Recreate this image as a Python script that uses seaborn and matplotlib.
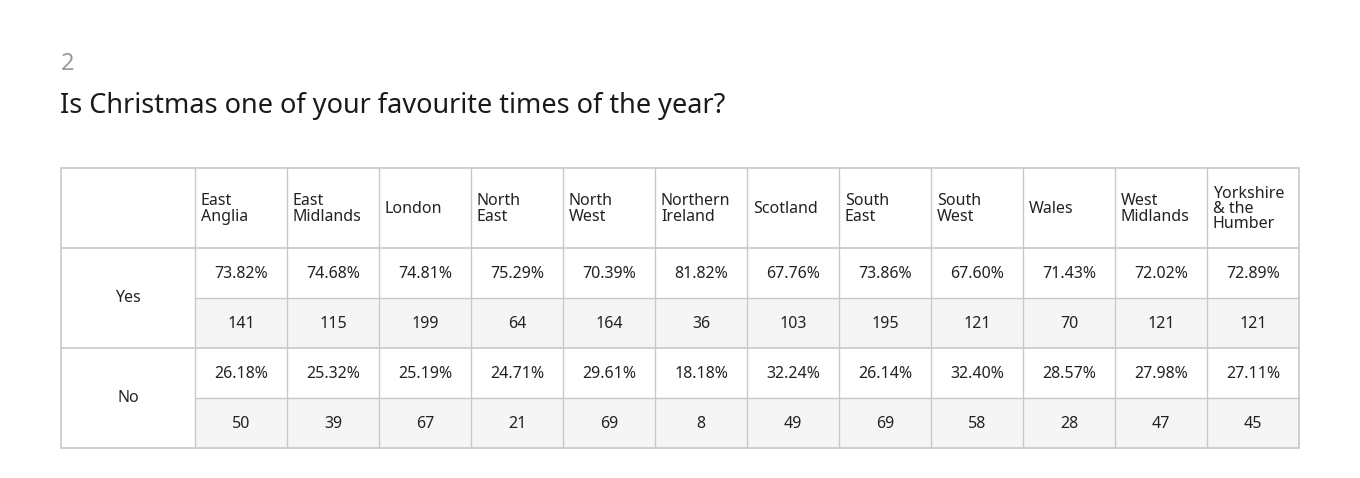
import matplotlib
matplotlib.use("Agg")
import matplotlib.pyplot as plt
import seaborn as sns
from matplotlib.patches import Rectangle

sns.set_theme(style="white")
plt.rcParams['font.family'] = ['Noto Sans', 'DejaVu Sans']

regions = ["East\nAnglia", "East\nMidlands", "London", "North\nEast", "North\nWest",
           "Northern\nIreland", "Scotland", "South\nEast", "South\nWest", "Wales",
           "West\nMidlands", "Yorkshire\n& the\nHumber"]
yes_pct = ["73.82%", "74.68%", "74.81%", "75.29%", "70.39%", "81.82%", "67.76%", "73.86%", "67.60%", "71.43%", "72.02%", "72.89%"]
yes_n = [141, 115, 199, 64, 164, 36, 103, 195, 121, 70, 121, 121]
no_pct = ["26.18%", "25.32%", "25.19%", "24.71%", "29.61%", "18.18%", "32.24%", "26.14%", "32.40%", "28.57%", "27.98%", "27.11%"]
no_n = [50, 39, 67, 21, 69, 8, 49, 69, 58, 28, 47, 45]
answers = ["Yes", "No"]

fig = plt.figure(figsize=(13.6, 4.78), dpi=100)
ax = fig.add_axes([0, 0, 1, 1])
ax.set_xlim(0, 1360); ax.set_ylim(478, 0); ax.axis("off")

x0, c0w, cw = 61, 134, 92
y0, hh, rh = 168, 80, 50
line = "#c8c8c8"
txt = "#222222"
ncol = len(regions)
right = x0 + c0w + cw * ncol

fig.text(61/1360, 1 - 64/478, "2", fontsize=17, color="#9a9a9a", fontweight="bold", va="center")
fig.text(60/1360, 1 - 106/478, "Is Christmas one of your favourite times of the year?",
         fontsize=19.5, color="#1a1a1a", fontweight="bold", va="center")

rows = [yes_pct, yes_n, no_pct, no_n]
for r, vals in enumerate(rows):
    top = y0 + hh + r * rh
    if r % 2 == 1:
        ax.add_patch(Rectangle((x0 + c0w, top), cw * ncol, rh, facecolor="#f5f5f5", edgecolor="none"))
    for c, v in enumerate(vals):
        ax.text(x0 + c0w + cw * c + cw / 2, top + rh / 2 + 1, str(v), ha="center", va="center",
                fontsize=11.5, color=txt)

for c, name in enumerate(regions):
    ax.text(x0 + c0w + cw * c + 6, y0 + hh / 2 + 1, name, ha="left", va="center",
            fontsize=11.5, fontweight="bold", color=txt, linespacing=0.95)

for i, a in enumerate(answers):
    ax.text(x0 + c0w / 2, y0 + hh + rh * (2 * i + 1), a, ha="center", va="center",
            fontsize=11.5, fontweight="bold", color=txt)

ax.add_patch(Rectangle((x0, y0), right - x0, hh + 4 * rh, fill=False, edgecolor=line, lw=1.2))
ax.plot([x0, right], [y0 + hh] * 2, color=line, lw=1.2)
ax.plot([x0, right], [y0 + hh + 2 * rh] * 2, color=line, lw=1.2)
for r in (1, 3):
    ax.plot([x0 + c0w, right], [y0 + hh + r * rh] * 2, color=line, lw=1)
for c in range(ncol):
    xx = x0 + c0w + cw * c
    ax.plot([xx, xx], [y0, y0 + hh + 4 * rh], color=line, lw=1)

fig.savefig("out.png", dpi=100, facecolor="white")
